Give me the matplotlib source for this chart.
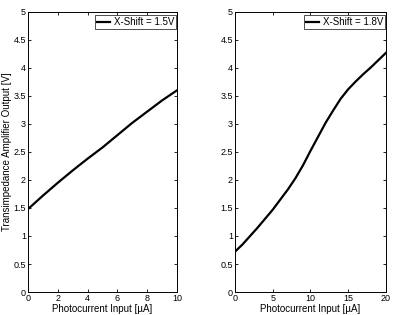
import matplotlib.pyplot as plt

plt.rcParams["font.family"] = ["Liberation Sans", "DejaVu Sans"]

# left panel: X-Shift = 1.5V
x_left = [0, 1, 2, 3, 4, 5, 6, 7, 8, 9, 10]
y_left = [1.48, 1.72, 1.95, 2.17, 2.38, 2.58, 2.80, 3.02, 3.22, 3.42, 3.60]

# right panel: X-Shift = 1.8V
x_right = [0, 1, 2, 3, 4, 5, 6, 7, 8, 9, 10, 11, 12, 13, 14, 15, 16, 17, 18, 19, 20]
y_right = [0.72, 0.85, 1.00, 1.15, 1.31, 1.47, 1.65, 1.83, 2.03, 2.26, 2.52,
           2.77, 3.02, 3.24, 3.45, 3.62, 3.76, 3.89, 4.01, 4.14, 4.27]

y_ticks = [0, 0.5, 1, 1.5, 2, 2.5, 3, 3.5, 4, 4.5, 5]
y_tick_labels = ["0", "0.5", "1", "1.5", "2", "2.5", "3", "3.5", "4", "4.5", "5"]

fig = plt.figure(figsize=(3.93, 3.15), dpi=100)

ax1 = fig.add_axes([0.0712, 0.073, 0.379, 0.889])
ax2 = fig.add_axes([0.598, 0.073, 0.384, 0.889])

panels = [
    (ax1, x_left, y_left, "X-Shift = 1.5V", [0, 2, 4, 6, 8, 10], (0, 10)),
    (ax2, x_right, y_right, "X-Shift = 1.8V", [0, 5, 10, 15, 20], (0, 20)),
]

for ax, xs, ys, label, xticks, xlim in panels:

    ax.plot(xs, ys, color="black", linewidth=1.6, label=label)

    ax.set_xlim(*xlim)
    ax.set_ylim(0, 5)
    ax.set_xticks(xticks)
    ax.set_yticks(y_ticks)
    ax.set_yticklabels(y_tick_labels)

    ax.tick_params(
        direction="in",
        top=True,
        right=True,
        length=2.5,
        width=0.6,
        labelsize=6.5,
        pad=1.5,
    )

    for spine in ax.spines.values():
        spine.set_linewidth(0.7)

    ax.set_xlabel("Photocurrent Input [\u00b5A]", fontsize=7, labelpad=0.5)

    leg = ax.legend(
        loc="upper right",
        bbox_to_anchor=(0.993, 0.989),
        fontsize=7,
        frameon=True,
        fancybox=False,
        handlelength=1.3,
        handletextpad=0.4,
        borderpad=0.2,
        borderaxespad=0,
    )
    leg.get_frame().set_edgecolor("black")
    leg.get_frame().set_linewidth(0.6)

ax1.set_ylabel("Transimpedance Amplifier Output [V]", fontsize=7, labelpad=1)

plt.savefig("out.png", dpi=100)

plt.close()
